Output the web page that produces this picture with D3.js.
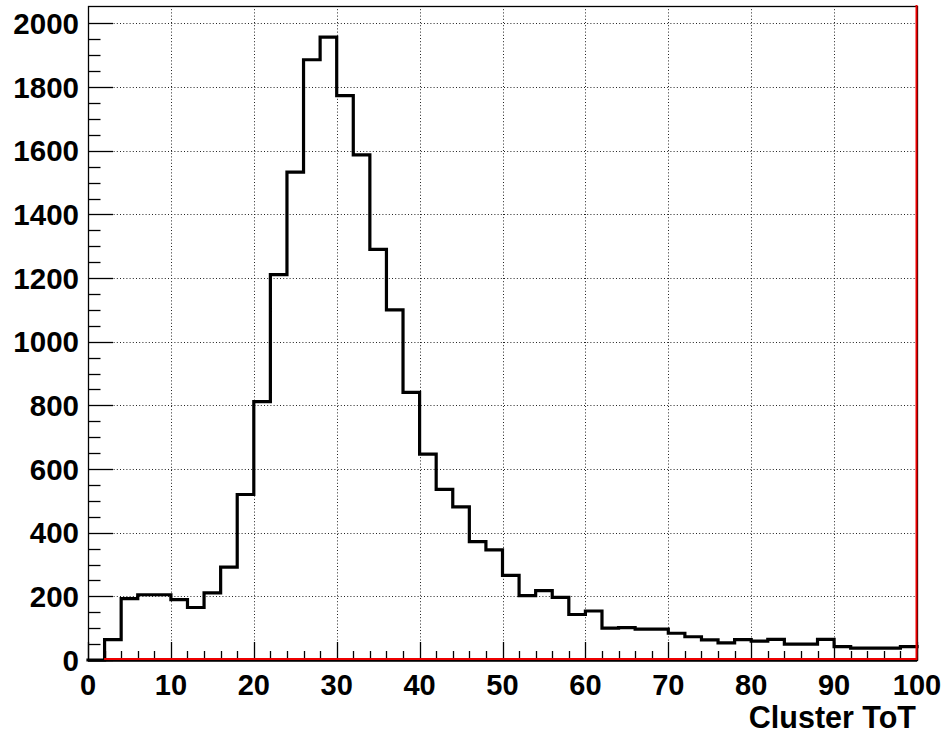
<!DOCTYPE html>
<html>
<head>
<meta charset="utf-8">
<script src="https://cdn.jsdelivr.net/npm/d3@7"></script>
<style>
  html, body { margin: 0; padding: 0; background: #fff; }
  svg { display: block; }
  text { font-family: "Liberation Sans", Arial, Helvetica, sans-serif; font-weight: bold; fill: #000; }
</style>
</head>
<body>
<svg id="chart" width="947" height="733"></svg>
<script>
// Cluster ToT histogram: bin lower edges (width 2) and entries per bin
const binStarts = [0, 2, 4, 6, 8, 10, 12, 14, 16, 18, 20, 22, 24, 26, 28, 30, 32, 34, 36, 38,
                   40, 42, 44, 46, 48, 50, 52, 54, 56, 58, 60, 62, 64, 66, 68, 70, 72, 74, 76, 78,
                   80, 82, 84, 86, 88, 90, 92, 94, 96, 98];
const counts = [0, 64, 193, 205, 205, 190, 165, 211, 292, 520,
                812, 1211, 1533, 1886, 1957, 1773, 1587, 1290, 1100, 841,
                647, 536, 481, 372, 346, 266, 202, 218, 197, 143,
                154, 100, 102, 97, 97, 84, 73, 63, 54, 64,
                59, 65, 50, 50, 65, 42, 37, 37, 37, 42];
const binWidth = 2;
const xTicks = [0, 10, 20, 30, 40, 50, 60, 70, 80, 90, 100];
const yTicks = [0, 200, 400, 600, 800, 1000, 1200, 1400, 1600, 1800, 2000];
const xTitle = "Cluster ToT";
// red baseline / right-edge outline (x, value); null = top of the frame
const redOutline = [[2, 0], [100, 0], [100, null]];

const padL = 88, padR = 917, padT = 6, padB = 660;
const yMax = d3.max(counts) * 1.05;

const x = d3.scaleLinear().domain([0, 100]).range([padL, padR]);
const y = d3.scaleLinear().domain([0, yMax]).range([padB, padT]);

const svg = d3.select("#chart");

// dotted grid
const grid = svg.append("g").attr("stroke", "#222").attr("stroke-width", 1)
  .attr("stroke-dasharray", "1 2.2").attr("fill", "none");
grid.selectAll("line.v").data(xTicks.slice(1, -1)).join("line").attr("class", "v")
  .attr("x1", d => Math.round(x(d)) + 0.5).attr("x2", d => Math.round(x(d)) + 0.5)
  .attr("y1", padT).attr("y2", padB);
grid.selectAll("line.h").data(yTicks.slice(1)).join("line").attr("class", "h")
  .attr("y1", d => Math.round(y(d)) + 0.5).attr("y2", d => Math.round(y(d)) + 0.5)
  .attr("x1", padL).attr("x2", padR);

// histogram outline
const pts = [];
binStarts.forEach((b, i) => {
  const prev = i === 0 ? counts[0] : counts[i - 1];
  pts.push([b, prev]);
  pts.push([b, counts[i]]);
});
pts.push([binStarts[binStarts.length - 1] + binWidth, counts[counts.length - 1]]);
const line = d3.line().x(d => x(d[0])).y(d => y(d[1]));
svg.append("path").datum(pts).attr("d", line)
  .attr("fill", "none").attr("stroke", "#000").attr("stroke-width", 3.2)
  .attr("stroke-linejoin", "miter").attr("stroke-linecap", "square");

// frame
svg.append("rect").attr("x", padL + 0.5).attr("y", padT + 0.5)
  .attr("width", padR - padL).attr("height", padB - padT)
  .attr("fill", "none").attr("stroke", "#000").attr("stroke-width", 1.3);

// x axis ticks (major every 10, minor every 2)
const xMinor = d3.range(0, 101, 2);
svg.append("g").selectAll("line").data(xMinor).join("line")
  .attr("x1", d => Math.round(x(d)) + 0.5).attr("x2", d => Math.round(x(d)) + 0.5)
  .attr("y1", padB).attr("y2", d => padB - (d % 10 === 0 ? 18 : 9))
  .attr("stroke", "#000").attr("stroke-width", 1.3);
svg.append("line").attr("x1", padL).attr("x2", padR).attr("y1", padB + 1).attr("y2", padB + 1)
  .attr("stroke", "#000").attr("stroke-width", 1.5);

// y axis ticks (major every 200, minor every 50)
const yMinor = d3.range(0, 2001, 50);
svg.append("g").selectAll("line").data(yMinor).join("line")
  .attr("y1", d => Math.round(y(d)) + 0.5).attr("y2", d => Math.round(y(d)) + 0.5)
  .attr("x1", padL).attr("x2", d => padL + (d % 200 === 0 ? 25 : 12.5))
  .attr("stroke", "#000").attr("stroke-width", 1.3);

// red outline along the bottom and right edge, drawn over the axis
const redPts = redOutline.map(d => [d[0], d[1] === null ? yMax : d[1]]);
svg.append("path").datum(redPts)
  .attr("d", d3.line().x(d => x(d[0]) - 0.5).y(d => y(d[1]) - 1))
  .attr("fill", "none").attr("stroke", "#ee0000").attr("stroke-width", 2);

// tick labels
svg.append("g").selectAll("text").data(xTicks).join("text")
  .attr("x", d => x(d)).attr("y", 695)
  .attr("text-anchor", "middle").attr("font-size", 29).text(d => d);
svg.append("g").selectAll("text").data(yTicks).join("text")
  .attr("x", 79).attr("y", d => y(d) + 10.5)
  .attr("text-anchor", "end").attr("font-size", 29.5).text(d => d);

// axis title
svg.append("text").attr("x", padR - 1).attr("y", 728)
  .attr("text-anchor", "end").attr("font-size", 30.5).text(xTitle);
</script>
</body>
</html>
